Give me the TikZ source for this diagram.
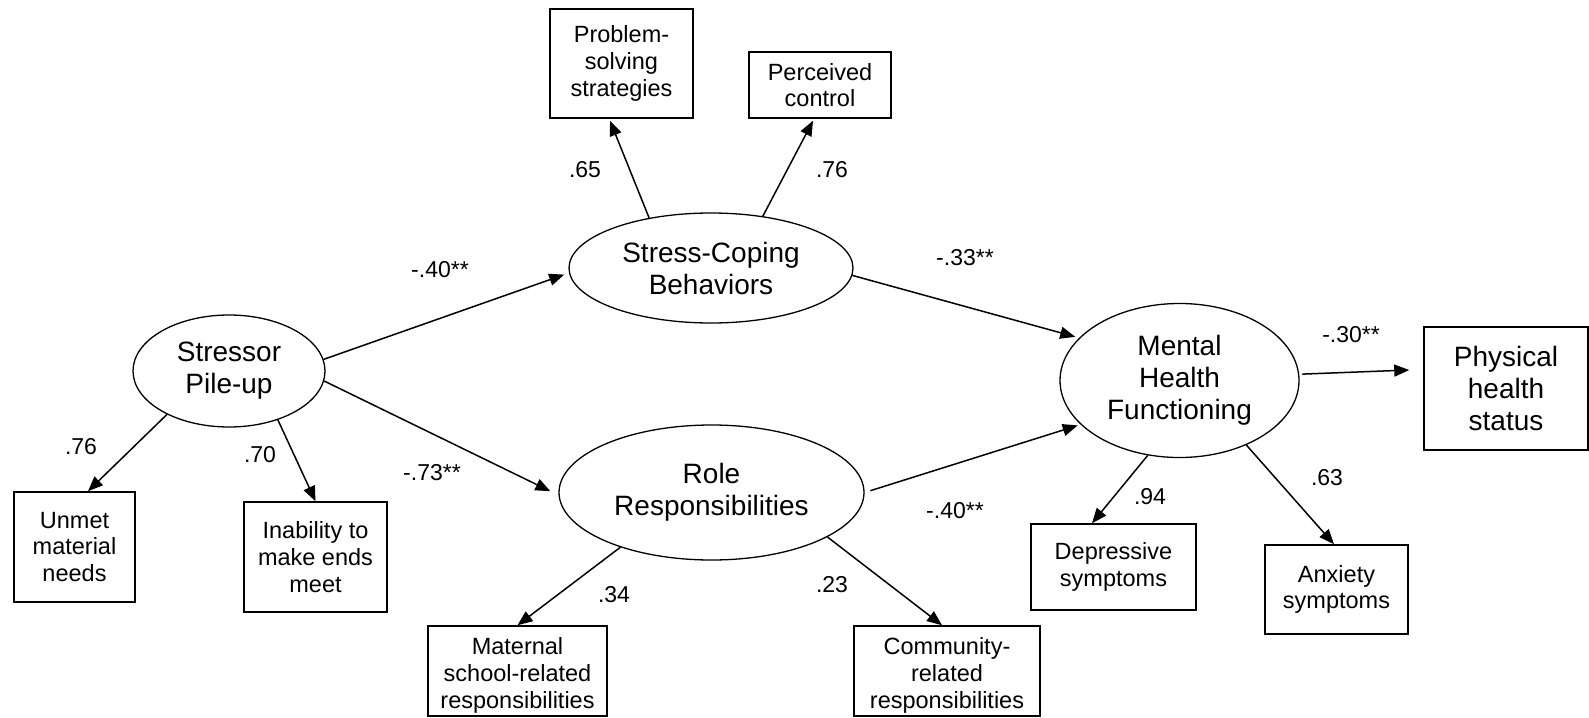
\documentclass[tikz,border=0pt]{standalone}
\usepackage{fontspec}
\setmainfont{Liberation Sans}
\usetikzlibrary{shapes.geometric,arrows.meta,calc}
\tikzset{
  latent/.style={ellipse, draw, line width=1.3pt, inner sep=0pt, align=center,
    font=\fontsize{28}{32}\selectfont},
  indicator/.style={rectangle, draw, line width=1.5pt, inner sep=0pt, align=center,
    font=\fontsize{23.5}{26.7}\selectfont},
  link/.style={line width=1.5pt, -{Triangle[length=15pt,width=12pt]}},
  coef/.style={inner sep=0pt, font=\fontsize{23}{26}\selectfont},
}
\newcommand{\topstrut}{\rule{0pt}{26pt}}
\begin{document}
\begin{tikzpicture}[x=1pt,y=-1pt]
\useasboundingbox (0,0) rectangle (1589,717);

% latent constructs
\node[latent, minimum width=192, minimum height=112] (stressor) at (229,371) {Stressor\\Pile-up};
\node[latent, minimum width=284, minimum height=110] (coping) at (711,268) {Stress-Coping\\Behaviors};
\node[latent, minimum width=305, minimum height=135] (role) at (711.5,492.5) {Role\\Responsibilities};
\node[latent, minimum width=239, minimum height=154] (mental) at (1179.5,380.5) {Mental\\Health\\Functioning};

% observed indicators
\node[indicator, minimum width=143, minimum height=109] (ps) at (621.5,63.5) {Problem-\\solving\\strategies};
\node[indicator, minimum width=142, minimum height=66] (pc) at (820,85) {Perceived\\control};
\node[indicator, minimum width=121, minimum height=110] (unmet) at (74.5,547) {Unmet\\material\\needs};
\node[indicator, minimum width=143, minimum height=110] (inability) at (315.5,557) {Inability to\\make ends\\meet};
\node[indicator, minimum width=179, minimum height=90] (maternal) at (517.5,671) {\topstrut Maternal\\school-related\\responsibilities};
\node[indicator, minimum width=186, minimum height=90] (community) at (947,671) {\topstrut Community-\\related\\responsibilities};
\node[indicator, minimum width=165, minimum height=86] (depressive) at (1113.5,567) {Depressive\\symptoms};
\node[indicator, minimum width=143, minimum height=89] (anxiety) at (1336.5,589.5) {Anxiety\\symptoms};
\node[indicator, minimum width=164, minimum height=123,
      font=\fontsize{28}{32}\selectfont] (physical) at (1506,388.5) {Physical\\health\\status};

% measurement paths
\draw[link] (stressor.215.8) -- ($(unmet.north)+(13.5,0)$);
\draw[link] (stressor.315.6) -- (inability.north);
\draw[link] (coping.141.6) -- ($(ps.south)+(-11.5,2)$);
\draw[link] (coping.45.6) -- ($(pc.south)+(-7,2)$);
\draw[link] (role.211.3) -- (maternal.north);
\draw[link] (role.339.3) -- ($(community.north)+(-5,0)$);
\draw[link] (mental.247.9) -- ($(depressive.north)+(-21.5,0)$);
\draw[link] (mental.316.2) -- ($(anxiety.north)+(-2.5,0)$);

% structural paths
\draw[link, shorten >=5pt] (stressor.7.3) -- (coping.182);
\draw[link, shorten >=9pt] (stressor.-6.7) -- (role.181);
\draw[link, shorten >=4pt] (coping.-3.2) -- (mental.157.8);
\draw[link, shorten <=6pt, shorten >=3pt] (role.0) -- (mental.204.9);
\draw[link, shorten <=3pt] (mental.3.5) -- ($(physical.west)+(-14,-18.5)$);

% coefficients
\node[coef] (c1) at (81,447) {.76};
\node[coef] (c2) at (260,455) {.70};
\node[coef] (c3) at (585,170) {.65};
\node[coef] (c4) at (832,170) {.76};
\node[coef] (c5) at (440,270) {-.40**};
\node[coef] (c6) at (432,473) {-.73**};
\node[coef] (c7) at (965,258) {-.33**};
\node[coef] (c8) at (955,511) {-.40**};
\node[coef] (c9) at (614,595) {.34};
\node[coef] (c10) at (832,585) {.23};
\node[coef] (c11) at (1351,335) {-.30**};
\node[coef] (c12) at (1150,497) {.94};
\node[coef] (c13) at (1327,478) {.63};
\end{tikzpicture}
\end{document}
